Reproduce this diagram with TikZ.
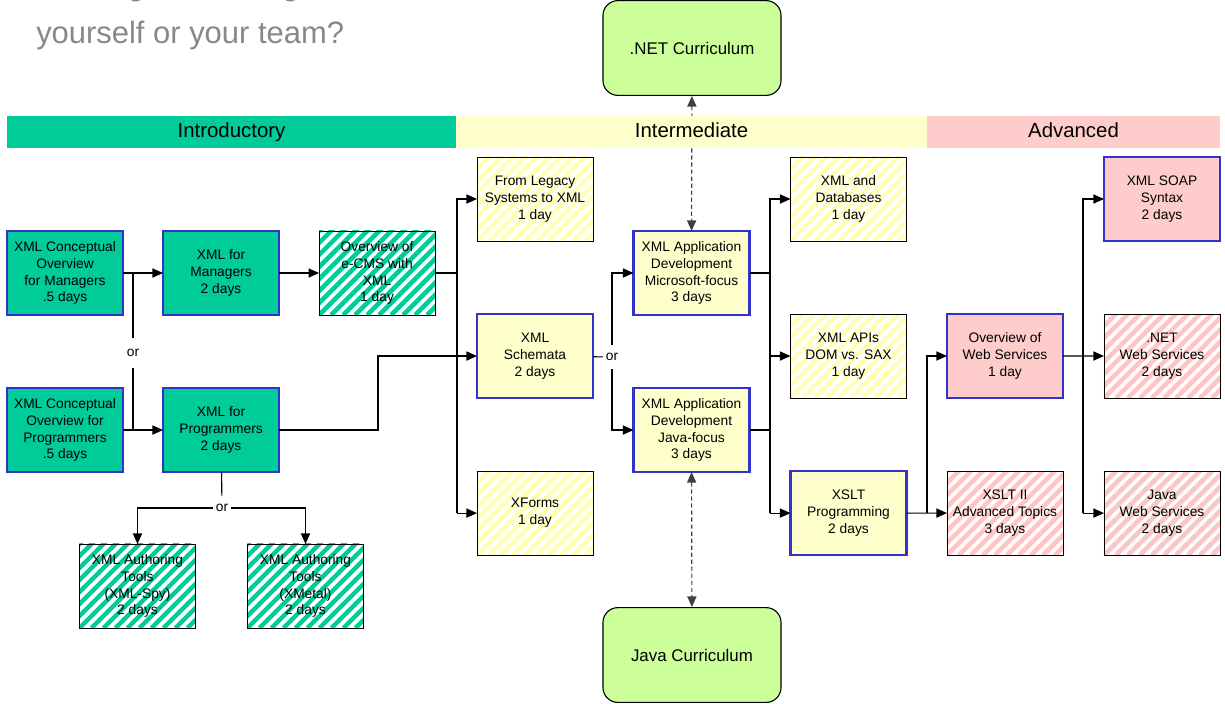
\documentclass[tikz,border=0pt]{standalone}
\usepackage{fontspec}
\setmainfont{Liberation Sans}
\usetikzlibrary{arrows.meta,positioning}

\definecolor{introgreen}{HTML}{00CC99}
\definecolor{midyellow}{HTML}{FFFFCC}
\definecolor{advpink}{HTML}{FFCCCC}
\definecolor{hatchyellow}{HTML}{FFFFB8}
\definecolor{hatchpink}{HTML}{FFC4C4}
\definecolor{coreblue}{HTML}{3333CC}
\definecolor{currgreen}{HTML}{CCFF99}
\definecolor{headgray}{HTML}{888888}

\begin{document}
\begin{tikzpicture}[
  x=0.025cm, y=-0.025cm,
  node distance=1.825cm and 1cm,
  course/.style={rectangle, minimum width=2.9cm, minimum height=2.1cm, outer sep=0pt,
                 align=center, inner sep=1pt, font=\fontsize{9.8}{12}\selectfont},
  core/.style={course, draw=coreblue, line width=1.6pt, fill=#1},
  elective/.style={course, draw=black, line width=0.6pt, fill=white,
                   path picture={\foreach \k in {-9,...,11}
                     \draw[#1, line width=3.2pt]
                       ([xshift=\k*0.3cm]path picture bounding box.south west) -- ++(3cm,3cm);}},
  curriculum/.style={rectangle, rounded corners=0.375cm, draw=black, line width=0.8pt,
                     fill=currgreen, minimum width=4.45cm, minimum height=2.37cm,
                     font=\fontsize{12}{14}\selectfont},
  band/.style={rectangle, minimum height=0.8cm, inner sep=0pt, text height=1em,
               text depth=0.21em, font=\fontsize{14.5}{17}\selectfont},
  choice/.style={inner xsep=2pt, inner ysep=0pt, minimum height=0.6cm,
                 font=\fontsize{9.8}{12}\selectfont},
  wire/.style={line width=0.8pt},
  flow/.style={wire, -{Triangle[length=7.5pt,width=6.5pt]}},
  link/.style={line width=0.8pt, draw=black!75, dash pattern=on 3pt off 2pt,
               {Triangle[length=7.5pt,width=6.5pt]}-{Triangle[length=7.5pt,width=6.5pt]}},
]
\useasboundingbox (0,0) rectangle (1225,704);

% Heading
\node[anchor=base west, align=left, inner sep=0pt, text=headgray,
      font=\fontsize{22}{34}\selectfont] (ask) at (36,43)
  {Looking for training for\\yourself or your team?};

% Introductory courses
\node[core=introgreen] (cm) at (65,273) {XML Conceptual\\Overview\\for Managers\\.5 days};
\node[core=introgreen, right=of cm] (mgr) {XML for\\Managers\\2 days};
\node[elective=introgreen, right=of mgr] (ecms) {Overview of\\e-CMS with\\XML\\1 day};
\node[core=introgreen, below=of cm] (cp) {XML Conceptual\\Overview for\\Programmers\\.5 days};
\node[core=introgreen, right=of cp] (prog) {XML for\\Programmers\\2 days};
\node[elective=introgreen] (spy) at (137.5,586) {XML Authoring\\Tools\\(XML-Spy)\\2 days};
\node[elective=introgreen] (xmetal) at (305.5,586) {XML Authoring\\Tools\\(XMetal)\\2 days};

% Intermediate courses
\node[elective=hatchyellow] (legacy) at (535,199) {From Legacy\\Systems to XML\\1 day};
\node[core=midyellow, below=of legacy] (schema) {XML\\Schemata\\2 days};
\node[elective=hatchyellow, below=of schema] (xforms) {XForms\\1 day};
\node[core=midyellow] (appms) at (691.5,273) {XML Application\\Development\\Microsoft-focus\\3 days};
\node[core=midyellow, below=of appms] (appjava) {XML Application\\Development\\Java-focus\\3 days};
\node[elective=hatchyellow] (db) at (848.5,199) {XML and\\Databases\\1 day};
\node[elective=hatchyellow, below=of db] (apis) {XML APIs\\DOM vs. SAX\\1 day};
\node[core=midyellow, below=of apis] (xslt) {XSLT\\Programming\\2 days};

% Advanced courses
\node[core=advpink] (ows) at (1005,356) {Overview of\\Web Services\\1 day};
\node[elective=hatchpink, below=of ows] (xslt2) {XSLT II\\Advanced Topics\\3 days};
\node[core=advpink] (soap) at (1162,199) {XML SOAP\\Syntax\\2 days};
\node[elective=hatchpink, below=of soap] (netws) {.NET\\Web Services\\2 days};
\node[elective=hatchpink, below=of netws] (javaws) {Java\\Web Services\\2 days};

% Curricula
\node[curriculum] (netcur) at (692,48) {.NET Curriculum};
\node[curriculum] (javacur) at (692,655) {Java Curriculum};

% Junctions
\node[choice, minimum height=0.75cm] (orL) at (133,353) {or};
\node[choice] (orB) at (222,508) {or};
\node[choice] (orM) at (612,357) {or};
\coordinate (busA) at (457,0);
\coordinate (jogA) at (378,0);
\coordinate (busB) at (770,0);
\coordinate (busC) at (927,0);
\coordinate (busD) at (1083,0);

% Connections
\draw[flow] (cm) -- (mgr);
\draw[flow] (cp) -- (prog);
\draw[wire] (orL) -- (orL |- cm);
\draw[wire] (orL) -- (orL |- cp);
\draw[flow] (mgr) -- (ecms);
\draw[wire] (prog) -- (orB);
\draw[flow] (orB) -| (spy);
\draw[flow] (orB) -| (xmetal);
\draw[wire] (ecms.east) -- (ecms.east -| busA);
\draw[flow] (busA |- xforms) |- (legacy.west);
\draw[flow] (busA |- xforms) -- (xforms.west);
\draw[flow] (prog.east) -| (jogA |- schema) -- (schema.west);
\draw[wire] (schema) -- (orM);
\draw[flow] (orM) |- (appms.west);
\draw[flow] (orM) |- (appjava.west);
\draw[wire] (appms.east) -- (appms.east -| busB);
\draw[wire] (appjava.east) -- (appjava.east -| busB);
\draw[flow] (busB |- xslt) |- (db.west);
\draw[flow] (busB |- apis) -- (apis.west);
\draw[flow] (busB |- xslt) -- (xslt.west);
\draw[flow] (xslt) -- (xslt2);
\draw[flow] (xslt.east -| busC) |- (ows.west);
\draw[flow] (ows) -- (netws);
\draw[flow] (busD |- javaws) |- (soap.west);
\draw[flow] (busD |- javaws) -- (javaws.west);

% Curriculum links (dashed)
\draw[link] (netcur) -- (appms);
\draw[link] (appjava) -- (javacur);

% Level bands
\node[band, fill=introgreen, minimum width=11.225cm] (intro) at (231.5,132) {Introductory};
\node[band, fill=midyellow, minimum width=11.775cm] (mid) at (691.5,132) {Intermediate};
\node[band, fill=advpink, minimum width=7.325cm] (adv) at (1073.5,132) {Advanced};

\end{tikzpicture}
\end{document}
